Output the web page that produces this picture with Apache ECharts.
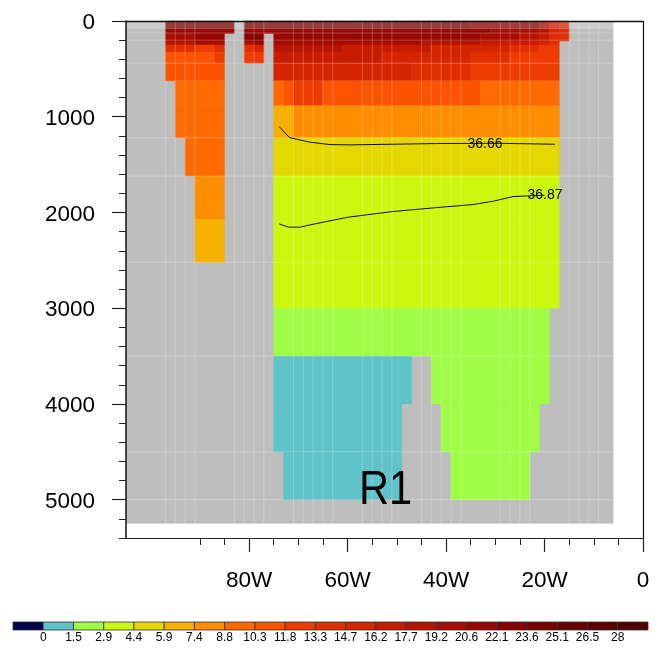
<!DOCTYPE html>
<html>
<head>
<meta charset="utf-8">
<style>html,body{margin:0;padding:0;background:#fff}#chart{width:661px;height:654px}</style>
<script src="https://cdn.jsdelivr.net/npm/echarts@6/dist/echarts.min.js"></script>
</head>
<body>
<div id="chart"></div>
<script>
// colour classes, tempBreaks[k] is the lower limit of boxColors[k + 1]
const tempBreaks = [0, 1.5, 2.9, 4.4, 5.9, 7.4, 8.8, 10.3, 11.8, 13.3, 14.7, 16.2, 17.7, 19.2, 20.6, 22.1, 23.6, 25.1, 26.5, 28];
const breakLabels = ['0', '1.5', '2.9', '4.4', '5.9', '7.4', '8.8', '10.3', '11.8', '13.3', '14.7', '16.2', '17.7', '19.2', '20.6', '22.1', '23.6', '25.1', '26.5', '28'];
const boxColors = ['#02024f', '#60c3c9', '#a0fd46', '#ccf70f', '#e5d800', '#f6b000', '#ff8d00', '#ff6a00', '#fb5300', '#ee3c00', '#e02e00', '#d42400', '#c81c00', '#b81300', '#a80c00', '#980600', '#880000', '#780000', '#680000', '#5c0000', '#4f0000'];

// depth bands, each with runs of [lon from, lon to, temperature]
const depthEdges = [0, 80, 130, 209, 250, 325, 440, 625, 885, 1220, 1620, 2070, 2520, 3000, 3500, 4000, 4500, 5000];
const band0 = [[-97, -83, 24.3], [-81, -35, 24.3], [-35, -21, 22.8], [-21, -19, 19.9], [-19, -17, 17], [-17, -15, 15.5]];
const band1 = [[-97, -83, 21.3], [-81, -31, 21.3], [-31, -21, 19.9], [-21, -19, 18.5], [-19, -17, 15.5], [-17, -15, 14]];
const band2 = [[-97, -91, 19.9], [-91, -85, 21.3], [-81, -77, 22.8], [-75, -33, 21.3], [-33, -25, 19.9], [-25, -21, 18.5], [-21, -19, 17], [-19, -15, 14]];
const band3 = [[-97, -91, 18.5], [-91, -85, 19.9], [-81, -79, 19.9], [-79, -77, 21.3], [-75, -45, 19.9], [-45, -33, 18.5], [-33, -21, 17], [-21, -19, 15.5], [-19, -17, 14]];
const band4 = [[-97, -91, 14], [-91, -87, 12.5], [-87, -85, 14], [-81, -79, 14], [-79, -77, 15.5], [-75, -61, 18.5], [-61, -43, 17], [-43, -27, 15.5], [-27, -21, 14], [-21, -17, 12.5]];
const band5 = [[-97, -87, 11], [-87, -85, 12.5], [-81, -77, 12.5], [-75, -53, 17], [-53, -35, 15.5], [-35, -27, 14], [-27, -17, 12.5]];
const band6 = [[-97, -85, 11], [-75, -47, 15.5], [-47, -35, 14], [-35, -17, 12.5]];
const band7 = [[-95, -85, 9.5], [-75, -73, 9.5], [-73, -71, 11], [-71, -65, 12.5], [-65, -33, 11], [-33, -17, 9.5]];
const band8 = [[-95, -85, 9.5], [-75, -71, 6.6], [-71, -17, 8.1]];
const band9 = [[-93, -85, 9.5], [-75, -17, 5.1]];
const band10 = [[-91, -85, 8.1], [-75, -17, 3.6]];
const band11 = [[-91, -85, 6.6], [-75, -17, 3.6]];
const band12 = [[-75, -17, 3.6]];
const band13 = [[-75, -19, 2.2]];
const band14 = [[-75, -47, 0.8], [-43, -19, 2.2]];
const band15 = [[-75, -49, 0.8], [-41, -21, 2.2]];
const band16 = [[-73, -49, 0.8], [-39, -23, 2.2]];
const bands = [band0, band1, band2, band3, band4, band5, band6, band7, band8, band9, band10, band11, band12, band13, band14, band15, band16];

// grey section background and the pale seams of the original plot
const landLons = [-105, -6];
const landDepths = [0, 5250];
const seamLons = [-97, -95, -93, -91, -83, -81, -79, -77, -71, -69, -67, -65, -63, -57, -55, -53, -51, -45, -43, -41, -39, -37, -29, -27, -25, -23, -15, -13, -11, -9, -6];
const seamDepths = [10, 20, 30, 40, 50, 60, 70, 80, 125, 200, 440, 1220, 1620, 2520, 3500, 4500, 5000, 5250];

// salinity contours [lon, depth]
const contour3666 = [[-73.9, 1103], [-71.8, 1218], [-67.6, 1266], [-63.6, 1291], [-59.5, 1294], [-50.8, 1287], [-41.9, 1280], [-30.4, 1277], [-17.9, 1287]];
const contour3687 = [[-73.9, 2119], [-72, 2153], [-69.6, 2153], [-67.6, 2129], [-59.9, 2049], [-50.8, 1990], [-41.9, 1949], [-34.5, 1917], [-30.4, 1882], [-26.4, 1834], [-23.4, 1827], [-20, 1820]];
const contourLabels = [[-32.1, 1284, '36.66'], [-19.9, 1816, '36.87']];

// axis ticks
const lonMajor = [-80, -60, -40, -20, 0];
const lonMinor = [-90, -85, -75, -70, -65, -55, -50, -45, -35, -30, -25, -15, -10, -5];
const depthMajor = [0, 1000, 2000, 3000, 4000, 5000];
const depthMinor = [200, 400, 600, 800, 1200, 1400, 1600, 1800, 2200, 2400, 2600, 2800, 3200, 3400, 3600, 3800, 4200, 4400, 4600, 4800, 5200, 5400];

function tempColor(t) {
  let k = 0;
  while (k < tempBreaks.length && t >= tempBreaks[k]) k++;
  return boxColors[k];
}

const sectionCells = [];
bands.forEach((runs, b) => {
  runs.forEach(r => sectionCells.push([r[0], r[1], depthEdges[b], depthEdges[b + 1], r[2]]));
});

const seamLines = [];
seamLons.forEach(lon => seamLines.push([lon, landDepths[0], lon, landDepths[1]]));
seamDepths.forEach(d => seamLines.push([landLons[0], d, landLons[1], d]));

function rectItem(api, style) {
  const a = api.coord([api.value(0), api.value(2)]);
  const b = api.coord([api.value(1), api.value(3)]);
  return {
    type: 'rect',
    shape: { x: a[0], y: a[1], width: b[0] - a[0], height: b[1] - a[1] },
    style: style
  };
}

const LABEL_FONT = 'Liberation Sans, Arial, sans-serif';

const chart = echarts.init(document.getElementById('chart'), null, { renderer: 'canvas' });
chart.setOption({
  animation: false,
  backgroundColor: '#fff',
  grid: [
    { left: 126, top: 21, width: 517, height: 517 },
    { left: 13, top: 622, width: 635, height: 8 }
  ],
  xAxis: [
    {
      type: 'value', gridIndex: 0, min: -105, max: 0, position: 'bottom', z: 10, splitLine: { show: false },
      axisLine: { onZero: false, lineStyle: { color: '#222', width: 1.2 } },
      axisTick: { customValues: lonMajor, length: 14, lineStyle: { color: '#222', width: 1.2 } },
      axisLabel: {
        customValues: lonMajor, margin: 31, fontSize: 22.5, color: '#000', fontFamily: LABEL_FONT,
        formatter: v => (v < 0 ? -v + 'W' : '0')
      }
    },
    {
      type: 'value', gridIndex: 0, min: -105, max: 0, position: 'bottom', z: 10, splitLine: { show: false },
      axisLine: { show: false, onZero: false },
      axisTick: { customValues: lonMinor, length: 7, lineStyle: { color: '#222', width: 1 } },
      axisLabel: { show: false }
    },
    {
      type: 'value', gridIndex: 1, min: 0, max: 21, splitLine: { show: false },
      axisLine: { show: false }, axisTick: { show: false },
      axisLabel: {
        customValues: breakLabels.map((_, i) => i + 1), margin: 2, fontSize: 12, color: '#000', fontFamily: LABEL_FONT,
        formatter: v => breakLabels[v - 1]
      }
    }
  ],
  yAxis: [
    {
      type: 'value', gridIndex: 0, inverse: true, min: 0, max: 5400, position: 'left', z: 10, splitLine: { show: false },
      axisLine: { onZero: false, lineStyle: { color: '#111', width: 1.5 } },
      axisTick: { customValues: depthMajor, length: 14, lineStyle: { color: '#222', width: 1.2 } },
      axisLabel: {
        customValues: depthMajor, margin: 31, color: '#000',
        rich: { d: { padding: [4, 0, 0, 0], fontSize: 22.5, color: '#000', fontFamily: LABEL_FONT } },
        formatter: v => '{d|' + v + '}'
      }
    },
    {
      type: 'value', gridIndex: 0, inverse: true, min: 0, max: 5400, position: 'left', z: 10, splitLine: { show: false },
      axisLine: { show: false, onZero: false },
      axisTick: { customValues: depthMinor, length: 7, lineStyle: { color: '#222', width: 1 } },
      axisLabel: { show: false }
    },
    { type: 'value', gridIndex: 1, min: 0, max: 1, show: false }
  ],
  series: [
    {
      type: 'custom', name: 'land', xAxisIndex: 0, yAxisIndex: 0, silent: true,
      data: [[landLons[0], landLons[1], landDepths[0], landDepths[1]]],
      renderItem: (params, api) => rectItem(api, { fill: '#bebebe' })
    },
    {
      type: 'custom', name: 'temperature', xAxisIndex: 0, yAxisIndex: 0, silent: true,
      data: sectionCells,
      renderItem: (params, api) => {
        const c = tempColor(api.value(4));
        return rectItem(api, { fill: c, stroke: c, lineWidth: 0.4 });
      }
    },
    {
      type: 'custom', name: 'seams', xAxisIndex: 0, yAxisIndex: 0, silent: true,
      data: seamLines,
      renderItem: (params, api) => {
        const a = api.coord([api.value(0), api.value(1)]);
        const b = api.coord([api.value(2), api.value(3)]);
        return {
          type: 'line',
          shape: { x1: a[0], y1: a[1], x2: b[0], y2: b[1] },
          style: { stroke: 'rgba(255,255,255,0.24)', lineWidth: 1 }
        };
      }
    },
    {
      type: 'line', xAxisIndex: 0, yAxisIndex: 0, data: contour3666, symbol: 'none', silent: true,
      lineStyle: { color: '#111', width: 1 }
    },
    {
      type: 'line', xAxisIndex: 0, yAxisIndex: 0, data: contour3687, symbol: 'none', silent: true,
      lineStyle: { color: '#111', width: 1 }
    },
    {
      type: 'scatter', xAxisIndex: 0, yAxisIndex: 0, data: contourLabels, symbolSize: 0, silent: true,
      itemStyle: { opacity: 1 },
      label: {
        show: true, position: 'inside', fontSize: 14, color: '#000', fontFamily: LABEL_FONT,
        formatter: p => p.value[2]
      }
    },
    {
      type: 'custom', name: 'colorbar', xAxisIndex: 2, yAxisIndex: 2, silent: true,
      data: boxColors.map((c, i) => [i, i + 1, 0, 1]),
      renderItem: (params, api) => rectItem(api, { fill: boxColors[params.dataIndex], stroke: '#333', lineWidth: 0.8 })
    }
  ],
  graphic: [
    { type: 'line', z: 100, shape: { x1: 126, y1: 21.5, x2: 643, y2: 21.5 }, style: { stroke: '#111', lineWidth: 1.5 }, silent: true },
    { type: 'line', z: 100, shape: { x1: 643.5, y1: 21, x2: 643.5, y2: 538 }, style: { stroke: '#111', lineWidth: 1.2 }, silent: true },
    { type: 'text', z: 100, x: 359, y: 466, scaleX: 0.85, style: { text: 'R1', fontSize: 49, fontFamily: LABEL_FONT, fill: '#000' }, silent: true }
  ]
});
</script>
</body>
</html>
